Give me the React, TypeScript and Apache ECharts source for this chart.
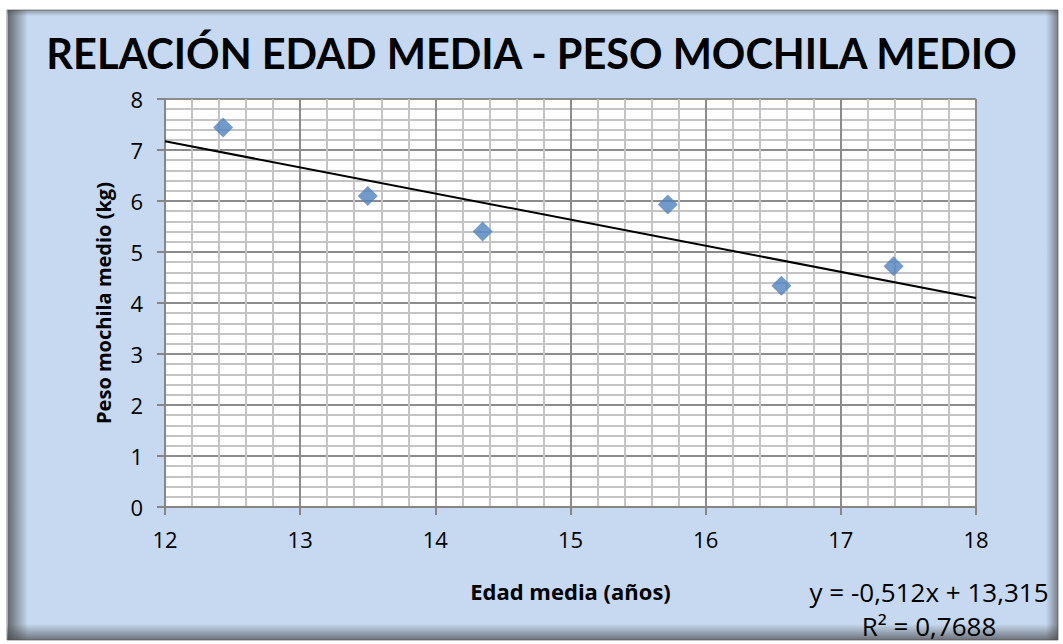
import React, { useEffect, useRef } from "react";
import * as echarts from "echarts";

const edadMedia = [12.43, 13.5, 14.35, 15.72, 16.56, 17.39];
const pesoMochila = [7.44, 6.1, 5.4, 5.93, 4.34, 4.72];
const trendSlope = -0.512;
const trendIntercept = 13.315;
const trendRange = [12, 18];
const titleText = "RELACIÓN EDAD MEDIA - PESO MOCHILA MEDIO";
const xName = "Edad media (años)";
const yName = "Peso mochila medio (kg)";
const eqLine1 = "y = -0,512x + 13,315";
const eqLine2 = "R² = 0,7688";

export default function App() {
  const ref = useRef<HTMLDivElement>(null);
  useEffect(() => {
    document.body.style.margin = "0";
    const chart = echarts.init(ref.current!, null, { renderer: "svg" });
    const trendData = trendRange.map((x) => [x, trendSlope * x + trendIntercept]);
    const titleFont = "Lato, 'Open Sans', sans-serif";
    const font = "'Open Sans', Lato, sans-serif";
    chart.setOption({
      animation: false,
      backgroundColor: "#ffffff",
      textStyle: { fontFamily: font },
      title: {
        text: titleText,
        left: "center",
        top: 27,
        textStyle: { fontFamily: titleFont, fontSize: 41.5, fontWeight: "bold", color: "#000" },
      },
      graphic: [
        {
          type: "rect",
          z: -10,
          shape: { x: 7, y: 10, width: 1051, height: 630 },
          style: { fill: "#c6d9f0", stroke: "#8c8c8c", lineWidth: 1 },
        },
        {
          type: "rect",
          z: -9,
          shape: { x: 8, y: 10, width: 20, height: 630 },
          style: {
            fill: new echarts.graphic.LinearGradient(0, 0, 1, 0, [
              { offset: 0, color: "rgba(70,70,70,0.75)" },
              { offset: 1, color: "rgba(70,70,70,0)" },
            ]),
          },
        },
        {
          type: "rect",
          z: -9,
          shape: { x: 7, y: 624, width: 1051, height: 16 },
          style: {
            fill: new echarts.graphic.LinearGradient(0, 0, 0, 1, [
              { offset: 0, color: "rgba(70,70,70,0)" },
              { offset: 1, color: "rgba(70,70,70,0.7)" },
            ]),
          },
        },
        {
          type: "rect",
          z: -9,
          shape: { x: 1046, y: 10, width: 12, height: 630 },
          style: {
            fill: new echarts.graphic.LinearGradient(0, 0, 1, 0, [
              { offset: 0, color: "rgba(70,70,70,0)" },
              { offset: 1, color: "rgba(70,70,70,0.6)" },
            ]),
          },
        },
        {
          type: "rect",
          z: -9,
          shape: { x: 7, y: 10, width: 1051, height: 6 },
          style: {
            fill: new echarts.graphic.LinearGradient(0, 0, 0, 1, [
              { offset: 0, color: "rgba(70,70,70,0.45)" },
              { offset: 1, color: "rgba(70,70,70,0)" },
            ]),
          },
        },
        {
          type: "text",
          z: 10,
          x: 929,
          y: 592,
          style: {
            text: eqLine1,
            fontFamily: font,
            fontSize: 26,
            fill: "#000",
            align: "center",
            verticalAlign: "middle",
          },
        },
        {
          type: "text",
          z: 10,
          x: 929,
          y: 626,
          style: {
            text: eqLine2,
            fontFamily: font,
            fontSize: 26,
            fill: "#000",
            align: "center",
            verticalAlign: "middle",
          },
        },
      ],
      grid: {
        left: 165,
        right: 87,
        top: 99,
        bottom: 137,
        show: true,
        backgroundColor: "#ffffff",
        borderWidth: 0,
      },
      xAxis: {
        type: "value",
        min: 12,
        max: 18,
        interval: 1,
        name: xName,
        nameLocation: "middle",
        nameGap: 73,
        nameTextStyle: { fontFamily: font, fontSize: 22, fontWeight: "bold", color: "#000" },
        axisLine: { show: true, onZero: false, lineStyle: { color: "#868686", width: 2 } },
        axisTick: { show: true, inside: false, length: 8, lineStyle: { color: "#868686", width: 2 } },
        axisLabel: { fontFamily: font, fontSize: 22, color: "#000", margin: 21 },
        splitLine: { show: true, lineStyle: { color: "#8c8c8c", width: 2 } },
        minorTick: { show: false, splitNumber: 5 },
        minorSplitLine: { show: true, lineStyle: { color: "#c4c4c4", width: 2 } },
      },
      yAxis: {
        type: "value",
        min: 0,
        max: 8,
        interval: 1,
        name: yName,
        nameLocation: "middle",
        nameGap: 52,
        nameTextStyle: { fontFamily: font, fontSize: 20, fontWeight: "bold", color: "#000" },
        axisLine: { show: true, onZero: false, lineStyle: { color: "#868686", width: 2 } },
        axisTick: { show: true, inside: false, length: 8, lineStyle: { color: "#868686", width: 2 } },
        axisLabel: { fontFamily: font, fontSize: 22, color: "#000", margin: 22 },
        splitLine: { show: true, lineStyle: { color: "#8c8c8c", width: 2 } },
        minorTick: { show: false, splitNumber: 5 },
        minorSplitLine: { show: true, lineStyle: { color: "#c4c4c4", width: 2 } },
      },
      series: [
        {
          type: "line",
          data: trendData,
          showSymbol: false,
          symbol: "none",
          lineStyle: { color: "#000", width: 2 },
          z: 3,
        },
        {
          type: "scatter",
          data: edadMedia.map((x, i) => [x, pesoMochila[i]]),
          symbol: "diamond",
          symbolSize: [20, 20],
          itemStyle: { color: "#4f81bd" },
          z: 4,
        },
      ],
    });
    return () => chart.dispose();
  }, []);
  return <div ref={ref} style={{ width: 1063, height: 644 }} />;
}
